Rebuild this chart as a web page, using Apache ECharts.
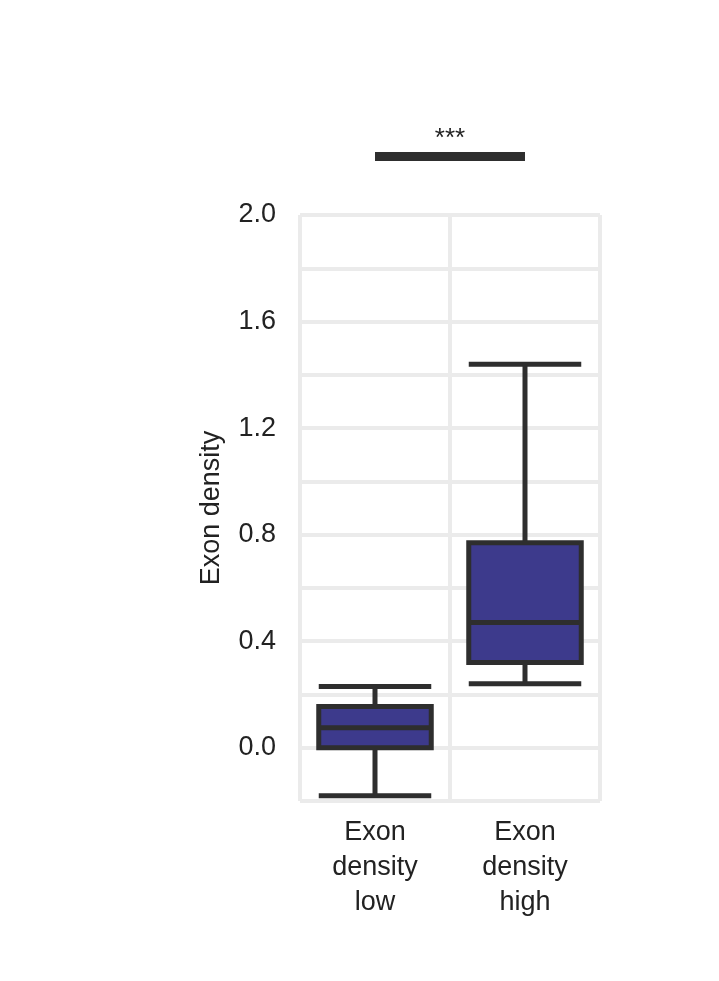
<!DOCTYPE html><html><head><meta charset="utf-8">
<script src="https://cdn.jsdelivr.net/npm/echarts@6/dist/echarts.min.js"></script>
<style>html,body{margin:0;background:#fff}#c{width:719px;height:981px}</style></head><body><div id="c"></div>
<script>
const categories=['Exon\ndensity\nlow','Exon\ndensity\nhigh'];
// [lower whisker, Q1, median, Q3, upper whisker]
const boxValues=[[-0.18,0.0,0.075,0.155,0.23],[0.24,0.32,0.47,0.77,1.44]];
const yTicks=[0,0.4,0.8,1.2,1.6,2.0];
const sigLabel='***';
const sigLevel=2.22;
const chart=echarts.init(document.getElementById('c'));
const font='Liberation Sans, Arial, sans-serif';
chart.setOption({
 animation:false,
 grid:{left:300,right:119,top:215,bottom:180},
 xAxis:{type:'category',data:categories,axisLine:{show:false},axisTick:{show:false},
  axisLabel:{color:'#222',fontSize:27,fontFamily:font,lineHeight:35,margin:14},
  splitLine:{show:true,lineStyle:{color:'#ebebeb',width:4}}},
 yAxis:{type:'value',min:-0.2,max:2.0,interval:0.2,name:'Exon density',nameLocation:'middle',nameGap:75,
  nameTextStyle:{color:'#222',fontSize:27,fontFamily:font},
  axisLine:{show:false},axisTick:{show:false},
  axisLabel:{color:'#222',fontSize:27,fontFamily:font,margin:24,
   formatter:v=>yTicks.some(t=>Math.abs(t-v)<1e-6)?v.toFixed(1):''},
  splitLine:{lineStyle:{color:'#ebebeb',width:4}}},
 series:[{type:'boxplot',data:boxValues,boxWidth:['75%','75%'],
  itemStyle:{color:'#3d3a8c',borderColor:'#2e2e2e',borderWidth:5}}]
});
const p1=chart.convertToPixel({xAxisIndex:0,yAxisIndex:0},[0,sigLevel]);
const p2=chart.convertToPixel({xAxisIndex:0,yAxisIndex:0},[1,sigLevel]);
chart.setOption({graphic:[
 {type:'line',shape:{x1:p1[0],y1:p1[1],x2:p2[0],y2:p2[1]},style:{stroke:'#2e2e2e',lineWidth:9}},
 {type:'text',x:(p1[0]+p2[0])/2,y:p1[1]-18,style:{text:sigLabel,fontSize:26,fontFamily:font,fill:'#222',align:'center',verticalAlign:'middle'}}
]});
</script></body></html>
